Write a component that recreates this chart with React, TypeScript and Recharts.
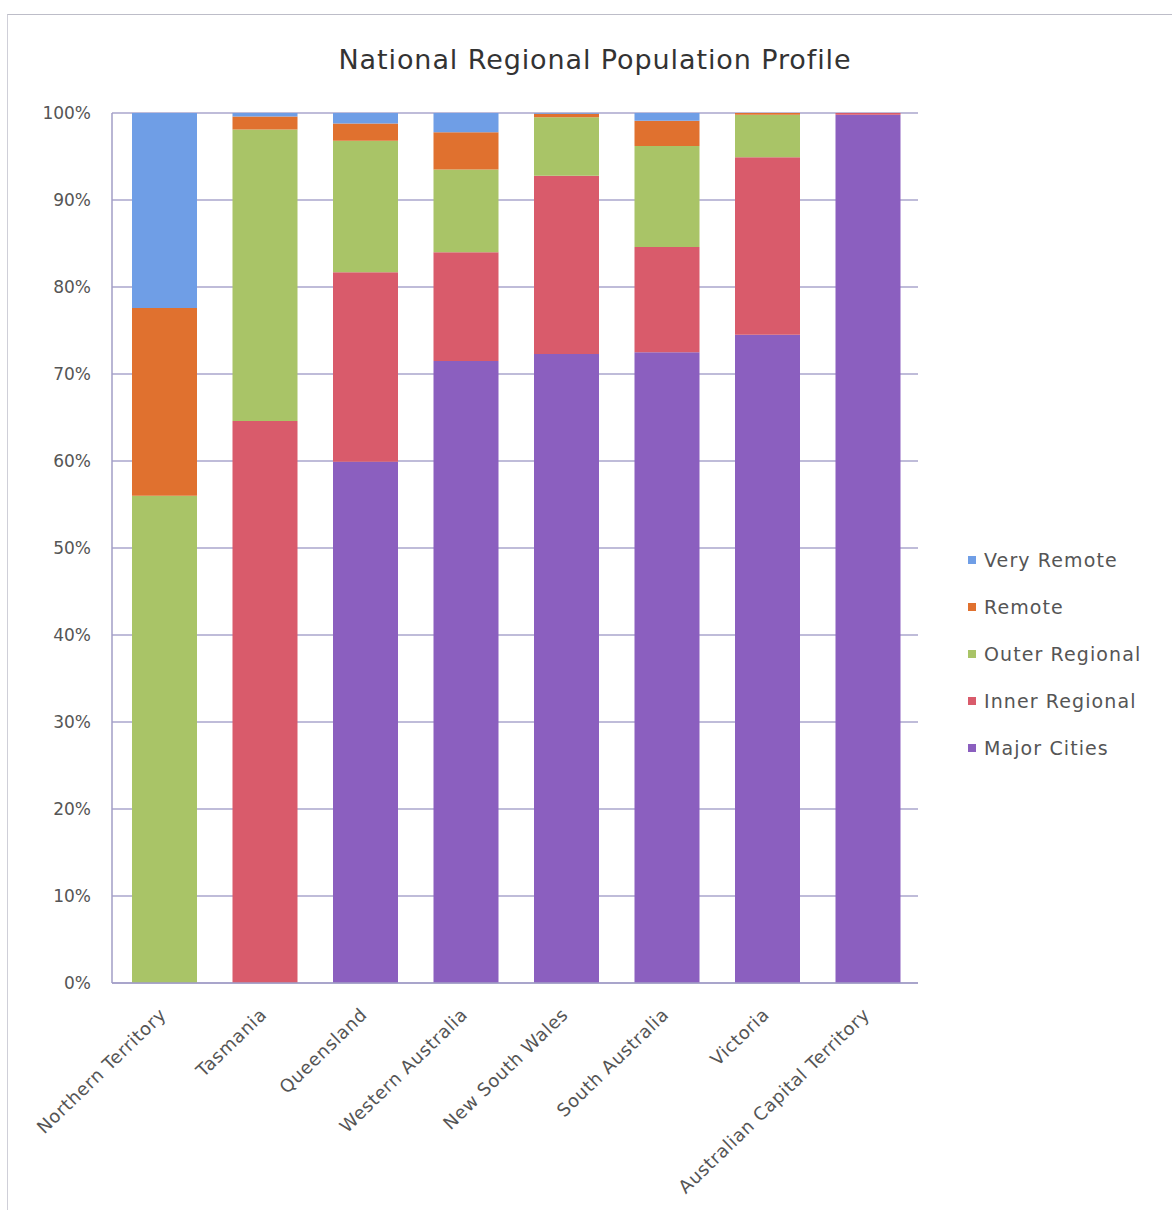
import React from "react";
import { BarChart, Bar, XAxis, YAxis, CartesianGrid, Legend } from "recharts";

const categories = [
  "Northern Territory",
  "Tasmania",
  "Queensland",
  "Western Australia",
  "New South Wales",
  "South Australia",
  "Victoria",
  "Australian Capital Territory",
];

const majorCities = [0, 0, 59.9, 71.5, 72.3, 72.5, 74.5, 99.8];
const innerRegional = [0, 64.6, 21.8, 12.5, 20.5, 12.1, 20.4, 0.2];
const outerRegional = [56.0, 33.5, 15.1, 9.5, 6.7, 11.6, 4.9, 0];
const remote = [21.6, 1.5, 2.0, 4.3, 0.4, 2.9, 0.2, 0];
const veryRemote = [22.4, 0.4, 1.2, 2.2, 0.1, 0.9, 0, 0];

const yTicks = [0, 0.1, 0.2, 0.3, 0.4, 0.5, 0.6, 0.7, 0.8, 0.9, 1];

const series = [
  { key: "major", name: "Major Cities", color: "#8b5fbf", values: majorCities },
  { key: "inner", name: "Inner Regional", color: "#d95b6b", values: innerRegional },
  { key: "outer", name: "Outer Regional", color: "#a9c467", values: outerRegional },
  { key: "remote", name: "Remote", color: "#e0712f", values: remote },
  { key: "veryRemote", name: "Very Remote", color: "#6f9ee6", values: veryRemote },
];

const data = categories.map((c, i) => {
  const row: Record<string, string | number> = { name: c };
  series.forEach((s) => {
    row[s.key] = s.values[i];
  });
  return row;
});

const FONT = "'DejaVu Sans', sans-serif";

const LegendContent = () => (
  <div style={{ fontFamily: FONT }}>
    {[...series].reverse().map((s) => (
      <div
        key={s.key}
        style={{ display: "flex", alignItems: "center", height: 47, fontSize: 19, letterSpacing: 1.1, color: "#555" }}
      >
        <span style={{ width: 8, height: 8, background: s.color, display: "inline-block", marginRight: 8 }} />
        <span>{s.name}</span>
      </div>
    ))}
  </div>
);

const XTick = (props: any) => {
  const { x, y, payload } = props;
  return (
    <g transform={`translate(${x + 3},${y + 25})`}>
      <text
        textAnchor="end"
        transform="rotate(-44)"
        fontSize={18}
        letterSpacing={0.6}
        fill="#555"
        fontFamily={FONT}
      >
        {payload.value}
      </text>
    </g>
  );
};

export default function App() {
  return (
    <div style={{ position: "absolute", left: 0, top: 0, width: 1172, height: 1210, background: "#fff", overflow: "hidden" }}>
      <div
        style={{
          position: "absolute",
          left: 7,
          top: 14,
          width: 1200,
          height: 1300,
          borderLeft: "1px solid #cfcfd8",
          borderTop: "1px solid #bdbdc8",
        }}
      />
      <div
        style={{
          position: "absolute",
          left: 0,
          top: 44,
          width: 1190,
          textAlign: "center",
          fontFamily: FONT,
          fontSize: 27,
          letterSpacing: 0.9,
          color: "#333",
        }}
      >
        National Regional Population Profile
      </div>
      <div style={{ position: "absolute", left: 0, top: 0 }}>
        <BarChart
          width={1172}
          height={1210}
          data={data}
          stackOffset="expand"
          margin={{ top: 113, right: 254, bottom: 0, left: 42 }}
        >
          <CartesianGrid vertical={false} stroke="#aaa6cc" strokeWidth={1.5} />
          <XAxis
            dataKey="name"
            interval={0}
            height={227}
            tick={<XTick />}
            tickLine={false}
            padding={{ left: 2, right: 0 }}
            axisLine={{ stroke: "#a29ec6", strokeWidth: 1.5 }}
          />
          <YAxis
            width={70}
            domain={[0, 1]}
            ticks={yTicks}
            tickFormatter={(v: number) => `${Math.round(v * 100)}%`}
            tick={{ fontSize: 17, fill: "#555", fontFamily: FONT }}
            tickLine={false}
            axisLine={{ stroke: "#a29ec6", strokeWidth: 1.5 }}
            tickMargin={15}
          />
          <Legend
            layout="vertical"
            align="center"
            verticalAlign="middle"
            content={<LegendContent />}
            wrapperStyle={{ left: 968, top: 536, width: 204 }}
          />
          {series.map((s) => (
            <Bar
              key={s.key}
              dataKey={s.key}
              name={s.name}
              stackId="a"
              fill={s.color}
              barSize={65}
              isAnimationActive={false}
            />
          ))}
        </BarChart>
      </div>
    </div>
  );
}
